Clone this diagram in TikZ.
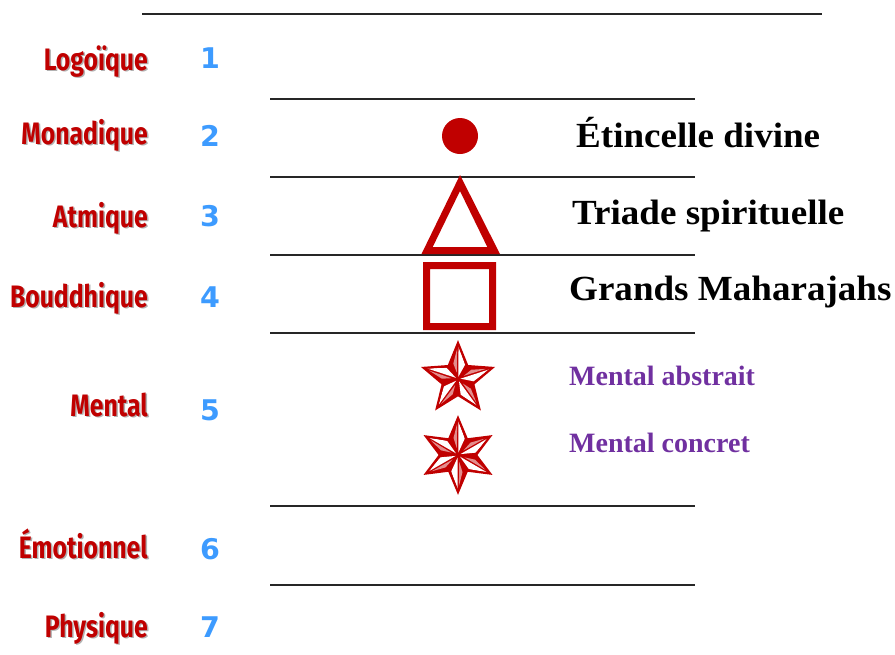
\documentclass[tikz,border=0pt]{standalone}
\usepackage{fontspec}
\usetikzlibrary{calc}
\setmainfont{Liberation Serif}
\newfontfamily\tnr[FakeStretch=1.05]{Liberation Serif}
\newfontfamily\lblfont[FakeStretch=0.8]{Fira Sans}
\newfontfamily\numfont{DejaVu Sans}
\definecolor{dred}{HTML}{C00000}
\definecolor{nblue}{HTML}{3D9BFF}
\definecolor{mpurple}{HTML}{7030A0}
\tikzset{
 lvl/.style={anchor=base east, inner sep=0pt, text=dred, font=\lblfont\bfseries\fontsize{31}{31}\selectfont},
 lvlshadow/.style={lvl, text=black, opacity=0.3},
 num/.style={anchor=base, inner sep=0pt, text=nblue, font=\numfont\bfseries\fontsize{28.5}{28.5}\selectfont},
 bigtxt/.style={anchor=base west, inner sep=0pt, font=\tnr\bfseries\fontsize{35.3}{35.3}\selectfont},
 smalltxt/.style={anchor=base west, inner sep=0pt, text=mpurple, font=\bfseries\fontsize{28}{28}\selectfont},
 sep/.style={line width=1.8pt, black!85},
 staredge/.style={draw=dred, line width=2.2pt, line join=miter},
}
\newcommand\lvlabel[4]{%
 \node[lvlshadow] (#1s) at (#2+1.5,#3+1.5) {#4};
 \node[lvl] (#1) at (#2,#3) {#4};}
\newcommand\mystar[5]{% cx, cy, n, R, r
 \begin{scope}[shift={(#1,#2)}]
  \coordinate (sc) at (0,0);
  \fill[dred] (270:#4) \foreach \k in {1,...,#3} { -- ({270+(\k-0.5)*360/#3}:#5) -- ({270+\k*360/#3}:#4) } -- cycle;
  \foreach \k in {1,...,#3} {
    \coordinate (st) at ({270+\k*360/#3}:#4);
    \coordinate (si) at ({270+(\k+0.5)*360/#3}:#5);
    \coordinate (sg) at ($1/3*(st)+1/3*(si)$);
    \fill[white] ($(sg)!0.85!(sc)$) -- ($(sg)!0.84!(st)$) -- ($(sg)!0.62!(si)$) -- cycle;
    \coordinate (sj) at ({270+(\k-0.5)*360/#3}:#5);
    \coordinate (sh) at ($1/3*(st)+1/3*(sj)$);
    \fill[white!55!dred] ($(sh)!0.6!(sc)$) -- ($(sh)!0.7!(st)$) -- ($(sh)!0.25!(sj)$) -- cycle;
  }
  \draw[staredge] (270:#4) \foreach \k in {1,...,#3} { -- ({270+(\k-0.5)*360/#3}:#5) -- ({270+\k*360/#3}:#4) } -- cycle;
 \end{scope}}
\begin{document}
\begin{tikzpicture}[x=1pt,y=-1pt]
\useasboundingbox (0,0) rectangle (895,654);
% separator lines
\coordinate (t0a) at (142,14); \coordinate (t0b) at (822,14);
\draw[sep] (t0a) -- (t0b);
\foreach \yy [count=\i] in {99,177,255,333,506,585} {
  \coordinate (la\i) at (270,\yy); \coordinate (lb\i) at (695,\yy);
  \draw[sep] (la\i) -- (lb\i);
}
% level labels
\lvlabel{l1}{148}{70}{Logoïque}
\lvlabel{l2}{148}{144}{Monadique}
\lvlabel{l3}{148}{227}{Atmique}
\lvlabel{l4}{148}{307}{Bouddhique}
\lvlabel{l5}{148}{416}{Mental}
\lvlabel{l6}{148}{558}{Émotionnel}
\lvlabel{l7}{148}{637}{Physique}
% numbers
\node[num] (n1) at (210,68) {1};
\node[num] (n2) at (210,146) {2};
\node[num] (n3) at (210,226) {3};
\node[num] (n4) at (210,307) {4};
\node[num] (n5) at (210,420) {5};
\node[num] (n6) at (210,559) {6};
\node[num] (n7) at (210,637) {7};
% symbols
\fill[dred] (460,136) circle (18);
\fill[dred, even odd rule] (460,175) -- (421.5,254) -- (500,254) -- cycle
  (460,191) -- (432.7,247) -- (487.3,247) -- cycle;
\fill[dred, even odd rule] (423,262) rectangle (496,330) (430,269) rectangle (489,323);
\mystar{458}{379}{5}{36}{16}
\mystar{458}{455}{6}{37}{18}
% right texts
\node[bigtxt] (e1) at (576,147) {Étincelle divine};
\node[bigtxt] (e2) at (572,224) {Triade spirituelle};
\node[bigtxt] (e3) at (569,300) {Grands Maharajahs};
\node[smalltxt] (m1) at (569,385) {Mental abstrait};
\node[smalltxt] (m2) at (569,452) {Mental concret};
\end{tikzpicture}
\end{document}
